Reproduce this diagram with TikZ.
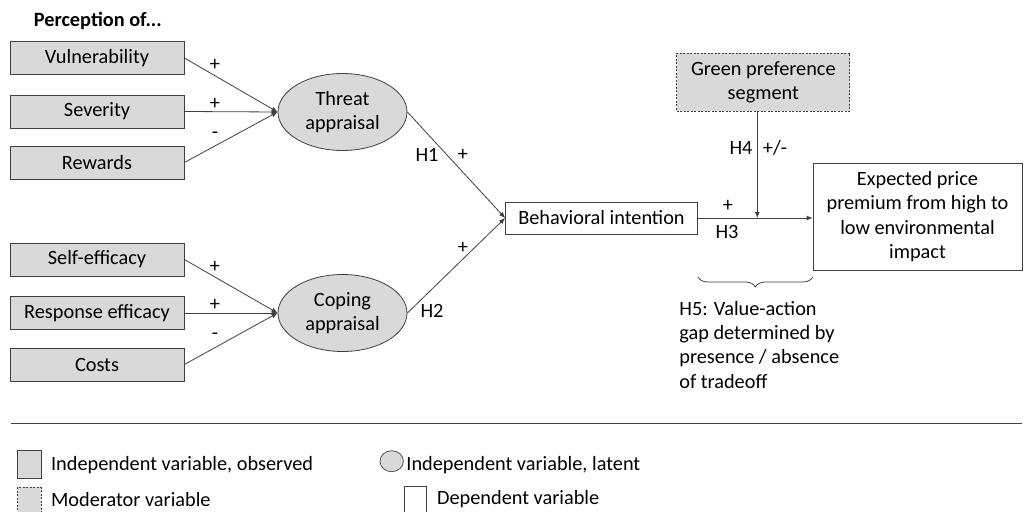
\documentclass[tikz,border=0pt]{standalone}
\usepackage{fontspec}
\setmainfont{Carlito}
\usetikzlibrary{arrows.meta,decorations.pathreplacing,shapes.geometric}
\definecolor{ln}{HTML}{404040}
\definecolor{gfill}{HTML}{D9D9D9}
\tikzset{
  obs/.style={draw=ln, fill=gfill, minimum width=174pt, minimum height=33pt, inner sep=0pt},
  lat/.style={draw=ln, fill=gfill, ellipse, minimum width=129pt, minimum height=77pt, inner sep=0pt, align=center},
  dep/.style={draw=ln, fill=white, inner sep=0pt, align=center},
  modbox/.style={draw=ln, fill=gfill, dash pattern=on 2pt off 1.5pt, minimum width=173pt, minimum height=58pt, inner sep=0pt, align=center},
  arr/.style={draw=ln, line width=0.8pt, -{Latex[length=6pt,width=5pt]}},
  lbl/.style={inner sep=0pt},
}
\begin{document}
\begin{tikzpicture}[x=1pt,y=-1pt, font=\fontsize{20.3}{24.4}\selectfont, line width=0.8pt]
\clip (0,0) rectangle (1024,511);
\fill[white] (0,0) rectangle (1024,511);
\node[lbl, anchor=west, font=\fontsize{20.3}{24.4}\selectfont\bfseries] (title) at (33.5,20.5) {Perception of...};
% observed boxes
\node[obs] (vul) at (97,58) {Vulnerability};
\node[obs] (sev) at (97,111.5) {Severity};
\node[obs] (rew) at (97,162.5) {Rewards};
\node[obs] (self) at (97,259.5) {Self-efficacy};
\node[obs] (resp) at (97,313) {Response efficacy};
\node[obs] (cost) at (97,364.5) {Costs};
% latent
\node[lat] (threat) at (342.5,112) {Threat\\appraisal};
\node[lat] (coping) at (342.5,313) {Coping\\appraisal};
% dependent
\node[dep, minimum width=192pt, minimum height=32pt] (bi) at (601.5,218) {Behavioral intention};
\node[dep, minimum width=209pt, minimum height=107pt] (exp) at (917.5,216.7) {Expected price\\premium from high to\\low environmental\\impact};
\node[modbox] (green) at (763.3,82) {Green preference\\segment};
% arrows to latent
\draw[arr] (vul.east) -- (threat.west);
\draw[arr] (sev.east) -- (threat.west);
\draw[arr] (rew.east) -- (threat.west);
\draw[arr] (self.east) -- (coping.west);
\draw[arr] (resp.east) -- (coping.west);
\draw[arr] (cost.east) -- (coping.west);
\node[lbl] (l1) at (215,65) {+};
\node[lbl] (l2) at (215,104) {+};
\node[lbl] (l3) at (215,135) {-};
\node[lbl] (l4) at (215,267) {+};
\node[lbl] (l5) at (215,305) {+};
\node[lbl] (l6) at (215,336) {-};
% latent to BI
\draw[arr] (threat.east) -- (bi.west);
\draw[arr] (coping.east) -- (bi.west);
\node[lbl] (h1) at (427,155) {H1};
\node[lbl] (h1p) at (463,155) {+};
\node[lbl] (h2p) at (463,248) {+};
\node[lbl] (h2) at (432,311) {H2};
% BI to expected
\draw[arr] (bi.east) -- (bi.east -| exp.west);
\coordinate (mod) at (757.3,218);
\draw[arr] (green.south -| mod) -- (mod);
\node[lbl] (h4) at (741,148) {H4};
\node[lbl] (h4p) at (775,148) {+/-};
\node[lbl] (h3p) at (728,206) {+};
\node[lbl] (h3) at (727,232) {H3};
% brace
\coordinate (bl) at (698,277);
\coordinate (br) at (812.7,277);
\draw[ln, line width=0.8pt, decorate, decoration={brace, amplitude=10pt, mirror}] (bl) -- (br);
\node[lbl, anchor=north west, align=left] (h5) at (679,300.5) {H5: Value-action\\gap determined by\\presence / absence\\of tradeoff};
% separator
\draw[ln, line width=0.8pt] (10.7,423.3) -- (1022,423.3);
% legend
\draw[ln, fill=gfill, line width=0.7pt] (17.7,450.7) rectangle (41,478.3);
\node[lbl, anchor=west] (lg1) at (50.7,465) {Independent variable, observed};
\draw[ln, fill=gfill, line width=0.7pt, dash pattern=on 2pt off 1.5pt] (17.7,487.3) rectangle (41,520);
\node[lbl, anchor=west] (lg2) at (50.7,499.3) {Moderator variable};
\draw[ln, fill=gfill, line width=0.7pt] (391.7,461.2) ellipse [x radius=11.7, y radius=10.5];
\node[lbl, anchor=west] (lg3) at (406,465) {Independent variable, latent};
\draw[ln, fill=white, line width=0.7pt] (404.3,486) rectangle (426.7,520);
\node[lbl, anchor=west] (lg4) at (436.7,499.3) {Dependent variable};
\end{tikzpicture}
\end{document}
